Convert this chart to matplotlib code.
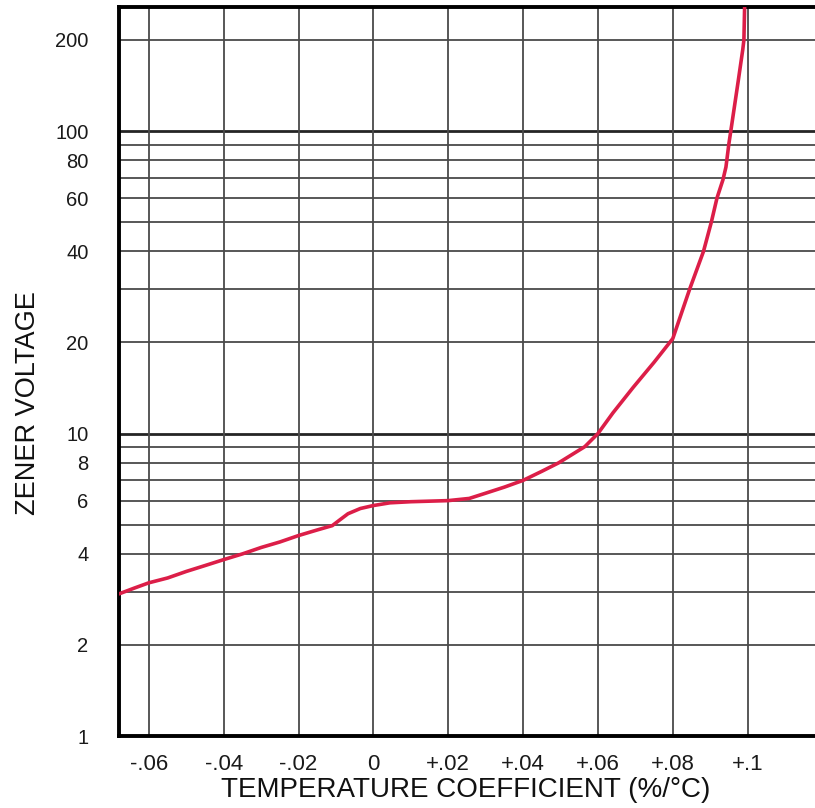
import matplotlib
matplotlib.use("Agg")
import matplotlib.pyplot as plt

# ---- data ----
temp_coeff = [-0.068, -0.064, -0.060, -0.055, -0.050, -0.045, -0.040, -0.035,
              -0.030, -0.025, -0.020, -0.015, -0.011, -0.009, -0.0068, -0.0035,
              0.000, 0.0044, 0.010, 0.020, 0.0256, 0.030, 0.035, 0.040, 0.045,
              0.0495, 0.0565, 0.060, 0.064, 0.0694, 0.075, 0.080, 0.0845,
              0.0882, 0.0903, 0.0918, 0.0934, 0.0942, 0.0950, 0.0955, 0.0974,
              0.0987, 0.0990, 0.0992]
zener_voltage = [2.95, 3.08, 3.21, 3.33, 3.50, 3.66, 3.83, 4.00,
                 4.20, 4.38, 4.60, 4.80, 4.96, 5.18, 5.43, 5.65,
                 5.78, 5.90, 5.95, 6.00, 6.10, 6.35, 6.65, 7.00, 7.50,
                 8.00, 9.05, 10.0, 11.7, 14.2, 17.2, 20.6, 30.0,
                 40.0, 50.0, 60.0, 69.0, 76.0, 91.0, 100.0, 144.0,
                 186.0, 200.0, 260.0]

x_ticks = [-0.06, -0.04, -0.02, 0.0, 0.02, 0.04, 0.06, 0.08, 0.10]
x_tick_labels = ["-.06", "-.04", "-.02", "0", "+.02", "+.04", "+.06", "+.08", "+.1"]
y_ticks = [1, 2, 4, 6, 8, 10, 20, 40, 60, 80, 100, 200]
y_tick_labels = ["1", "2", "4", "6", "8", "10", "20", "40", "60", "80", "100", "200"]
y_minor_grid = [2, 3, 4, 5, 6, 7, 8, 9, 20, 30, 40, 50, 60, 70, 80, 90, 200]
y_major_grid = [10, 100]

x_label = "TEMPERATURE COEFFICIENT (%/°C)"
y_label = "ZENER VOLTAGE"

plt.rcParams["font.family"] = ["Liberation Sans", "DejaVu Sans"]

W, H = 815, 808
fig = plt.figure(figsize=(W / 100, H / 100), dpi=100)
left_px, right_px, top_px, bottom_px = 119, 815, 7, 736
ax = fig.add_axes([left_px / W, 1 - bottom_px / H,
                   (right_px - left_px) / W, (bottom_px - top_px) / H])

ax.set_yscale("log")
ax.set_xlim(-0.068, 0.118)
ax.set_ylim(1, 257)

grid_col = "#4a4a4a"
for v in y_minor_grid:
    ax.axhline(v, color=grid_col, lw=1.3, zorder=1)
for v in y_major_grid:
    ax.axhline(v, color="#252525", lw=2.0, zorder=1)
for v in x_ticks:
    ax.axvline(v, color=grid_col, lw=1.3, zorder=1)

ax.plot(temp_coeff, zener_voltage, color="#DC1E48", lw=2.6,
        solid_capstyle="round", solid_joinstyle="round", zorder=3)

ax.set_xticks(x_ticks)
ax.set_xticklabels(x_tick_labels)
ax.set_yticks(y_ticks)
ax.set_yticklabels(y_tick_labels)
ax.minorticks_off()
ax.tick_params(axis="x", length=0, pad=13, labelsize=16, labelcolor="#1a1a1a")
ax.tick_params(axis="y", length=0, pad=22, labelsize=14.5, labelcolor="#1a1a1a")

for side in ("left", "bottom", "top"):
    ax.spines[side].set_linewidth(2.8)
    ax.spines[side].set_color("black")
ax.spines["right"].set_visible(False)

fig.text(466 / W, 1 - 790 / H, x_label, ha="center", va="center",
         fontsize=20, color="#111111")
fig.text(28 / W, 1 - 403 / H, y_label, ha="center", va="center",
         rotation=90, fontsize=19.5, color="#111111")

fig.savefig("out.png", dpi=100)
